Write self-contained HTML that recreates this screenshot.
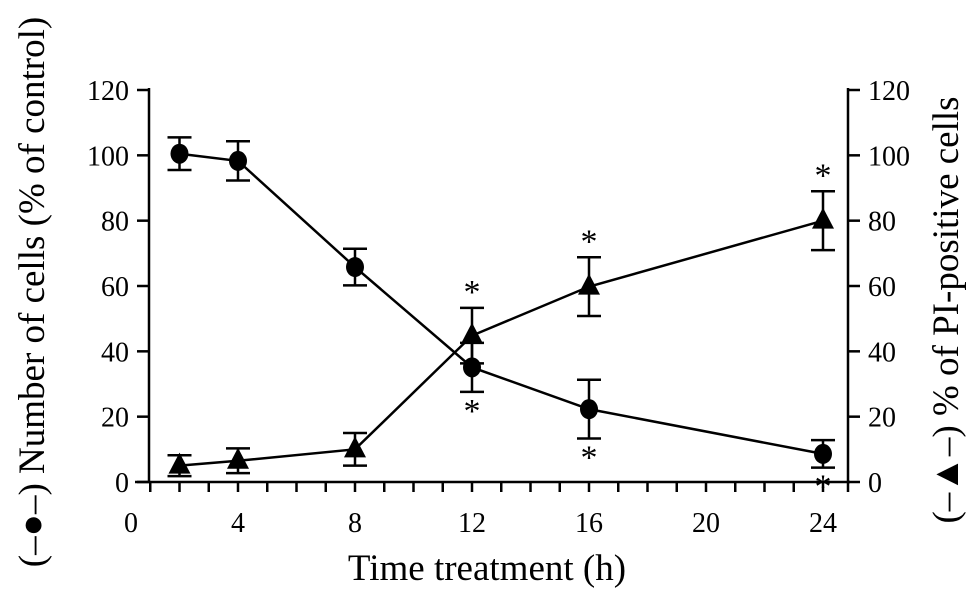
<!DOCTYPE html>
<html><head><meta charset="utf-8"><style>
html,body{margin:0;padding:0;background:#fff;}
svg{display:block;font-family:"Liberation Serif",serif;}
</style></head><body>
<svg id="chart" width="969" height="598" viewBox="0 0 969 598" xmlns="http://www.w3.org/2000/svg"></svg>
<script>
const hours = [2, 4, 8, 12, 16, 24];
const cellCount = [100.5, 98.3, 65.8, 35.1, 22.3, 8.6];
const cellErr = [5, 6, 5.6, 7.5, 9, 4.2];
const cellSig = [false, false, false, true, true, true];
const piPositive = [5, 6.5, 10, 44.8, 59.8, 80];
const piErr = [3.2, 3.8, 5, 8.5, 9, 9];
const piSig = [false, false, false, true, true, true];
const xTickLabels = [0, 4, 8, 12, 16, 20, 24];
const yTickLabels = [0, 20, 40, 60, 80, 100, 120];

const NS = "http://www.w3.org/2000/svg";
const svg = document.getElementById('chart');
const X = h => 121 + 29.25 * h;
const Y = v => 482 - v * (392 / 120);
const LEFT = 149, RIGHT = 848;
function mk(tag, attrs, parent) {
  const e = document.createElementNS(NS, tag);
  for (const k in attrs) e.setAttribute(k, attrs[k]);
  (parent || svg).appendChild(e);
  return e;
}
const ax = mk('g', {stroke: '#000', 'stroke-width': 2.5, fill: 'none'});


let l = mk('line', {x1: 135, y1: 482, x2: RIGHT + 2, y2: 482}, ax);
 
l = mk('line', {x1: LEFT, y1: 88, x2: LEFT, y2: 482}, ax);
 
l = mk('line', {x1: RIGHT, y1: 88, x2: RIGHT, y2: 492}, ax);
 
for (let h = 1; h <= 24; h++) {
  const t = mk('line', {x1: X(h), y1: 482, x2: X(h), y2: 492}, ax);
  
  
}
xTickLabels.forEach(v => {
  const t = mk('text', {x: v === 0 ? 131 : X(v), y: 532, 'font-size': 28, 'text-anchor': 'middle'});
  t.textContent = v;
  
  
});
yTickLabels.forEach(v => {
  mk('line', {x1: LEFT - 12, y1: Y(v), x2: LEFT, y2: Y(v)}, ax);
  mk('line', {x1: RIGHT, y1: Y(v), x2: RIGHT + 12, y2: Y(v)}, ax);
  let t = mk('text', {x: LEFT - 20, y: Y(v) + 10, 'font-size': 28, 'text-anchor': 'end'});
  t.textContent = v;
  
  
  t = mk('text', {x: RIGHT + 20, y: Y(v) + 10, 'font-size': 28, 'text-anchor': 'start'});
  t.textContent = v;
  
  
});
let t = mk('text', {x: 487, y: 580, 'font-size': 37, 'text-anchor': 'middle'});
t.textContent = 'Time treatment (h)';


t = mk('text', {x: 0, y: 0, 'font-size': 37, 'text-anchor': 'middle', transform: 'translate(44,292) rotate(-90)'});
t.textContent = '(\u2013\u25CF\u2013) Number of cells (% of control)';


t = mk('text', {x: 0, y: 0, 'font-size': 37, 'text-anchor': 'middle', transform: 'translate(958,310) rotate(-90)'});
t.textContent = '(\u2013\u25B2\u2013) % of PI-positive cells';



function series(vals, errs, sig, kind) {
  const g = mk('g', {stroke: '#000', 'stroke-width': 2.5, fill: '#000'});
  
  
  const pts = vals.map((v, i) => X(hours[i]) + ',' + Y(v)).join(' ');
  const pl = mk('polyline', {points: pts, fill: 'none'}, g);
  
  
  vals.forEach((v, i) => {
    const x = X(hours[i]);
    const eb = mk('path', {fill: 'none', d: `M${x},${Y(v + errs[i])}V${Y(v - errs[i])}M${x - 12},${Y(v + errs[i])}H${x + 12}M${x - 12},${Y(v - errs[i])}H${x + 12}`}, g);
    
    
    let m;
    if (kind === 'circle') {
      m = mk('ellipse', {cx: x, cy: Y(v), rx: 9, ry: 10, stroke: 'none'}, g);
    } else {
      const y = Y(v);
      m = mk('polygon', {points: `${x},${y - 13} ${x - 11},${y + 8} ${x + 11},${y + 8}`, stroke: 'none'}, g);
    }
    
    
    if (sig[i]) {
      const sy = kind === 'circle' ? Y(v - errs[i]) + 30 : Y(v + errs[i]) - 5;
      const s = mk('text', {x: x, y: sy, 'font-size': 34, 'text-anchor': 'middle', stroke: 'none'}, g);
      s.textContent = '*';
      
      
    }
  });
}
series(cellCount, cellErr, cellSig, 'circle');
series(piPositive, piErr, piSig, 'triangle');
</script>
</body></html>
